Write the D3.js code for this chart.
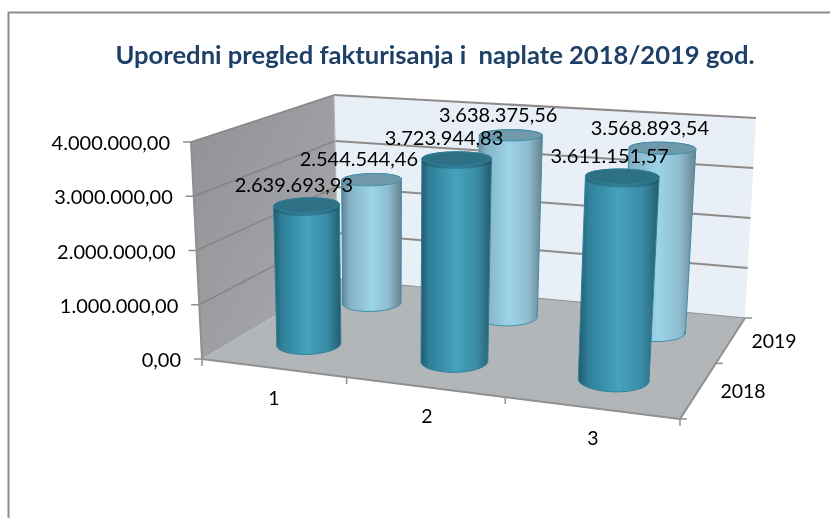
<!DOCTYPE html>
<html><head><meta charset="utf-8"><script src="https://cdn.jsdelivr.net/npm/d3@7"></script>
<style>html,body{margin:0;background:#fff}svg{display:block}text{font-family:Lato,"Open Sans",sans-serif}</style></head>
<body><svg id="c" width="830" height="518"></svg>
<script>
const title = "Uporedni pregled fakturisanja i  naplate 2018/2019 god.";
const categories = ["1", "2", "3"];
const seriesNames = ["2018", "2019"];
const values2018 = [2639693.93, 3723944.83, 3611151.57];
const values2019 = [2544544.46, 3638375.56, 3568893.54];
const valueTicks = [0, 1000000, 2000000, 3000000, 4000000];

const root = d3.select("#c");
const fmt = d3.formatLocale({decimal: ",", thousands: ".", grouping: [3], currency: ["", ""]}).format(",.2f");

const xS = d3.scaleBand().domain(categories).range([0, 1]);
const zS = d3.scaleBand().domain(seriesNames).range([0, 1]);
const yS = d3.scaleLinear().domain([0, 4000000]).range([0, 1]);

// perspective map of the unit square onto a quad (p00,p10,p11,p01)
function homography(p00, p10, p11, p01) {
  const [x0,y0]=p00,[x1,y1]=p10,[x2,y2]=p11,[x3,y3]=p01;
  const dx1=x1-x2, dx2=x3-x2, sx=x0-x1+x2-x3, dy1=y1-y2, dy2=y3-y2, sy=y0-y1+y2-y3;
  const den=dx1*dy2-dx2*dy1;
  const g=(sx*dy2-dx2*sy)/den, h=(dx1*sy-sx*dy1)/den;
  const a=x1-x0+g*x1, b=x3-x0+h*x3, d=y1-y0+g*y1, e=y3-y0+h*y3;
  return (u,v)=>{const w=g*u+h*v+1; return [(a*u+b*v+x0)/w,(d*u+e*v+y0)/w];};
}
const floorH = homography([202,359],[680,419],[745,318],[338,279]);
const topH = homography([191,142],[691,178],[756,118],[334,95]);
const mix = (a, b, t) => [a[0] + (b[0] - a[0]) * t, a[1] + (b[1] - a[1]) * t];
const proj = (u, v, h) => mix(floorH(u, v), topH(u, v), h);
const poly = pts => "M" + pts.map(p => p.join(",")).join("L") + "Z";

// defs
const defs = root.append("defs");
defs.append("filter").attr("id", "soft").attr("x", 0).attr("y", 0).attr("width", 1).attr("height", 1)
  .append("feGaussianBlur").attr("stdDeviation", 0.4);
function grad(id, stops) {
  const g = defs.append("linearGradient").attr("id", id);
  stops.forEach(s => g.append("stop").attr("offset", s[0]).attr("stop-color", s[1]));
}
grad("dark", [[0, "#235a6e"], [.12, "#2f7f98"], [.5, "#45a3bf"], [.8, "#3a8ba5"], [1, "#245b6e"]]);
grad("light", [[0, "#5f8294"], [.14, "#86b2c6"], [.5, "#9cd3e8"], [.78, "#8fbdd1"], [1, "#67838f"]]);
const lw = defs.append("linearGradient").attr("id", "lwall").attr("x1", 0).attr("y1", 0).attr("x2", 1).attr("y2", 1);
lw.append("stop").attr("offset", 0).attr("stop-color", "#8f9195");
lw.append("stop").attr("offset", 1).attr("stop-color", "#a9abaf");

const svg = root.append("g").attr("filter", "url(#soft)");
svg.append("rect").attr("width", 830).attr("height", 518).attr("fill", "#fff");
const line = (a, b, stroke, w) => svg.append("line").attr("x1", a[0]).attr("y1", a[1]).attr("x2", b[0]).attr("y2", b[1]).attr("stroke", stroke).attr("stroke-width", w);

// chart frame
svg.append("path").attr("d", "M8.5,530V12.5H840").attr("fill", "none").attr("stroke", "#8c8c8c").attr("stroke-width", 2);

// walls and floor
svg.append("path").attr("d", poly([proj(0,1,0), proj(1,1,0), proj(1,1,1), proj(0,1,1)])).attr("fill", "#e8eff6");
svg.append("path").attr("d", poly([proj(0,0,0), proj(0,1,0), proj(0,1,1), proj(0,0,1)])).attr("fill", "url(#lwall)");
svg.append("path").attr("d", poly([proj(0,0,0), proj(1,0,0), proj(1,1,0), proj(0,1,0)])).attr("fill", "#b3b6b9");

// gridlines, value ticks and labels
valueTicks.forEach(t => {
  const h = yS(t);
  if (t > 0) {
    line(proj(0,0,h), proj(0,1,h), "#858585", 1.5);
    line(proj(0,1,h), proj(1,1,h), "#8f8b8b", 2);
  }
  const p = proj(0,0,h);
  line([p[0] - 8, p[1]], p, "#8f8f8f", 1.5);
  svg.append("text").attr("x", p[0] - 21).attr("y", p[1] + 8).attr("text-anchor", "end")
    .attr("font-size", 20).attr("fill", "#000").text(t === 0 ? "0,00" : fmt(t));
});

// axis edges and ticks
line(proj(0,0,0), proj(0,0,1), "#8f8f8f", 2);
line(proj(0,1,0), proj(0,1,1), "#b5b5b5", 1);
line(proj(0,0,0), proj(1,0,0), "#8f8f8f", 2);
line(proj(1,0,0), proj(1,1,0), "#8f8f8f", 2);
line(proj(0,1,0), proj(1,1,0), "#8f8f8f", 1);
categories.concat(["end"]).forEach((c, i) => {
  const p = proj(i / categories.length, 0, 0);
  line(p, [p[0], p[1] + 7], "#8f8f8f", 1.5);
});
seriesNames.concat(["end"]).forEach((s, i) => {
  const p = proj(1, i / seriesNames.length, 0);
  line(p, [p[0] + 7, p[1]], "#8f8f8f", 1.5);
});

// axis labels
const catLabelPos = [[274, 405], [427, 423], [593, 445]];
categories.forEach((c, i) => svg.append("text").attr("x", catLabelPos[i][0]).attr("y", catLabelPos[i][1]).attr("text-anchor", "middle").attr("font-size", 19.5).attr("fill", "#000").text(c));
const serLabelPos = [[743, 398], [774, 348]];
seriesNames.forEach((s, i) => svg.append("text").attr("x", serLabelPos[i][0]).attr("y", serLabelPos[i][1]).attr("text-anchor", "middle").attr("font-size", 19.5).attr("fill", "#000").text(s));

// cylinders: circle in the box plane, projected; tops lean right by a couple of pixels
const angles = d3.range(0, 73).map(i => i / 72 * 2 * Math.PI);
function ring(u, v, h) {
  const ru = xS.bandwidth() * 0.205, rv = zS.bandwidth() * 0.21;
  return angles.map(a => {
    const p = proj(u + ru * Math.cos(a), v + rv * Math.sin(a), h);
    return [p[0] + 2.5 * h, p[1]];
  });
}
function cyl(catIdx, serIdx, val, fill, topFill, edge, bevel) {
  const u = xS(categories[catIdx]) + xS.bandwidth() / 2;
  const v = zS(seriesNames[serIdx]) + zS.bandwidth() / 2;
  const h = yS(val);
  const bot = ring(u, v, 0), top = ring(u, v, h);
  const iL = d3.scan(bot, (a, b) => a[0] - b[0]), iR = d3.scan(bot, (a, b) => b[0] - a[0]);
  const jL = d3.scan(top, (a, b) => a[0] - b[0]), jR = d3.scan(top, (a, b) => b[0] - a[0]);
  const front = bot.filter(p => p[1] >= Math.min(bot[iL][1], bot[iR][1]) - 1e-6 && p !== bot[iL] && p !== bot[iR]).sort((a, b) => a[0] - b[0]);
  const backTop = top.filter(p => p[1] <= Math.max(top[jL][1], top[jR][1])).sort((a, b) => b[0] - a[0]);
  const outline = [top[jL], bot[iL], ...front, bot[iR], top[jR], ...backTop];
  svg.append("path").attr("d", poly(outline)).attr("fill", fill).attr("stroke", edge).attr("stroke-width", 1);
  if (bevel) svg.append("path").attr("d", poly(top.map(p => [p[0], p[1] + 3.5]))).attr("fill", "#1f5566").attr("opacity", .45);
  svg.append("path").attr("d", poly(top)).attr("fill", topFill).attr("stroke", edge).attr("stroke-width", 1);
  return [d3.mean(top, p => p[0]), d3.mean(top, p => p[1])];
}
const labels = [];
[[1, values2019, "url(#light)", "#6f99ab", "#3f8ea8", false], [0, values2018, "url(#dark)", "#2f7084", "#2f8099", true]].forEach(([s, vals, f, tf, e, b]) => {
  vals.forEach((val, i) => labels.push({t: cyl(i, s, val, f, tf, e, b), val}));
});
labels.forEach(l => svg.append("text").attr("x", l.t[0] - 13).attr("y", l.t[1] - 13.5).attr("text-anchor", "middle").attr("font-size", 20).attr("fill", "#000").text(fmt(l.val)));

// title
svg.append("text").attr("x", 435).attr("y", 64).attr("text-anchor", "middle").attr("font-size", 25.6).attr("font-weight", 700).attr("fill", "#1f3f66").style("white-space", "pre").text(title);
</script></body></html>
